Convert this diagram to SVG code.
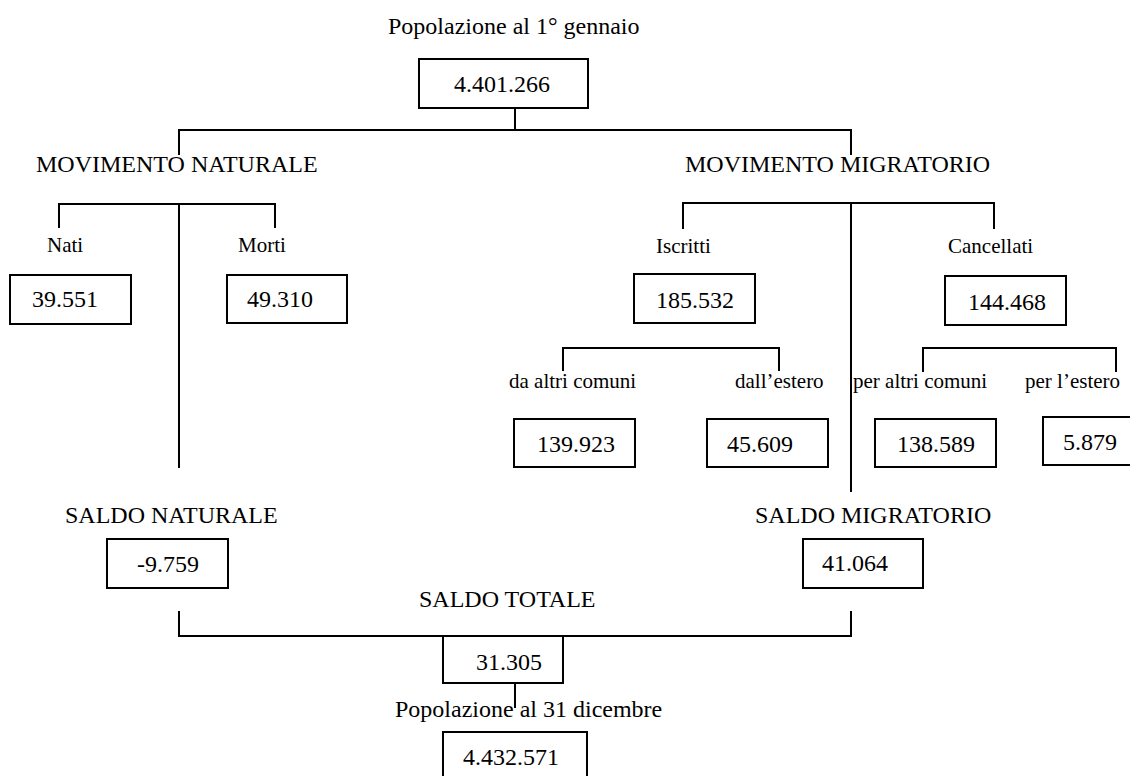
<svg xmlns="http://www.w3.org/2000/svg" width="1130" height="776" viewBox="0 0 1130 776">
<style>
text{font-family:"Liberation Serif","Times New Roman",serif;fill:#000}
.t{font-size:24px}
.s{font-size:21px}
.n{font-size:24px}
.box{fill:#fff;stroke:#000;stroke-width:2}
.ln{fill:none;stroke:#000;stroke-width:2}
</style>
<rect width="1130" height="776" fill="#fff"/>
<g id="connectors">
<path class="ln" d="M515,108V130M178,130H852M179,130V155M851,130V155"/>
<path class="ln" d="M59,228V204H275V228M179,204V468"/>
<path class="ln" d="M683,229V203H994V229M851,203V492"/>
<path class="ln" d="M563,371V348H779V371"/>
<path class="ln" d="M923,372V348H1116V372"/>
<path class="ln" d="M179,611V636H851V611"/>
<path class="ln" d="M515,683V708"/>
</g>
<g id="labels">
<text class="t" x="388" y="34">Popolazione al 1° gennaio</text>
<text class="t" x="36" y="172">MOVIMENTO NATURALE</text>
<text class="t" x="685" y="172">MOVIMENTO MIGRATORIO</text>
<text class="s" x="47" y="252">Nati</text>
<text class="s" x="238" y="252">Morti</text>
<text class="s" x="656" y="253">Iscritti</text>
<text class="s" x="948" y="253">Cancellati</text>
<text class="s" x="509" y="388">da altri comuni</text>
<text class="s" x="735" y="388">dall’estero</text>
<text class="s" x="853" y="388">per altri comuni</text>
<text class="s" x="1025" y="388">per l’estero</text>
<text class="t" x="65" y="523">SALDO NATURALE</text>
<text class="t" x="755" y="523">SALDO MIGRATORIO</text>
<text class="t" x="419" y="607">SALDO TOTALE</text>
<text class="t" x="395" y="717">Popolazione al 31 dicembre</text>
</g>
<g id="n-pop-start"><rect class="box" x="419" y="59" width="169" height="49"/><text class="n" x="454" y="92">4.401.266</text></g>
<g id="n-nati"><rect class="box" x="10" y="275" width="121" height="49"/><text class="n" x="32" y="307">39.551</text></g>
<g id="n-morti"><rect class="box" x="227" y="275" width="120" height="48"/><text class="n" x="247" y="307">49.310</text></g>
<g id="n-iscritti"><rect class="box" x="634" y="274" width="121" height="49"/><text class="n" x="656" y="308">185.532</text></g>
<g id="n-cancellati"><rect class="box" x="945" y="276" width="121" height="49"/><text class="n" x="968" y="310">144.468</text></g>
<g id="n-da-altri"><rect class="box" x="514" y="419" width="121" height="48"/><text class="n" x="537" y="452">139.923</text></g>
<g id="n-dall-estero"><rect class="box" x="707" y="419" width="121" height="48"/><text class="n" x="727" y="452">45.609</text></g>
<g id="n-per-altri"><rect class="box" x="875" y="419" width="121" height="48"/><text class="n" x="897" y="452">138.589</text></g>
<g id="n-per-estero"><rect class="box" x="1043" y="417" width="121" height="48"/><text class="n" x="1063" y="450">5.879</text></g>
<g id="n-saldo-nat"><rect class="box" x="107" y="539" width="121" height="49"/><text class="n" x="137" y="572">-9.759</text></g>
<g id="n-saldo-mig"><rect class="box" x="803" y="539" width="120" height="49"/><text class="n" x="822" y="571">41.064</text></g>
<g id="n-saldo-tot"><rect class="box" x="443" y="636" width="120" height="47"/><text class="n" x="476" y="670">31.305</text></g>
<g id="n-pop-end"><rect class="box" x="443" y="732" width="144" height="60"/><text class="n" x="463" y="765">4.432.571</text></g>
</svg>
